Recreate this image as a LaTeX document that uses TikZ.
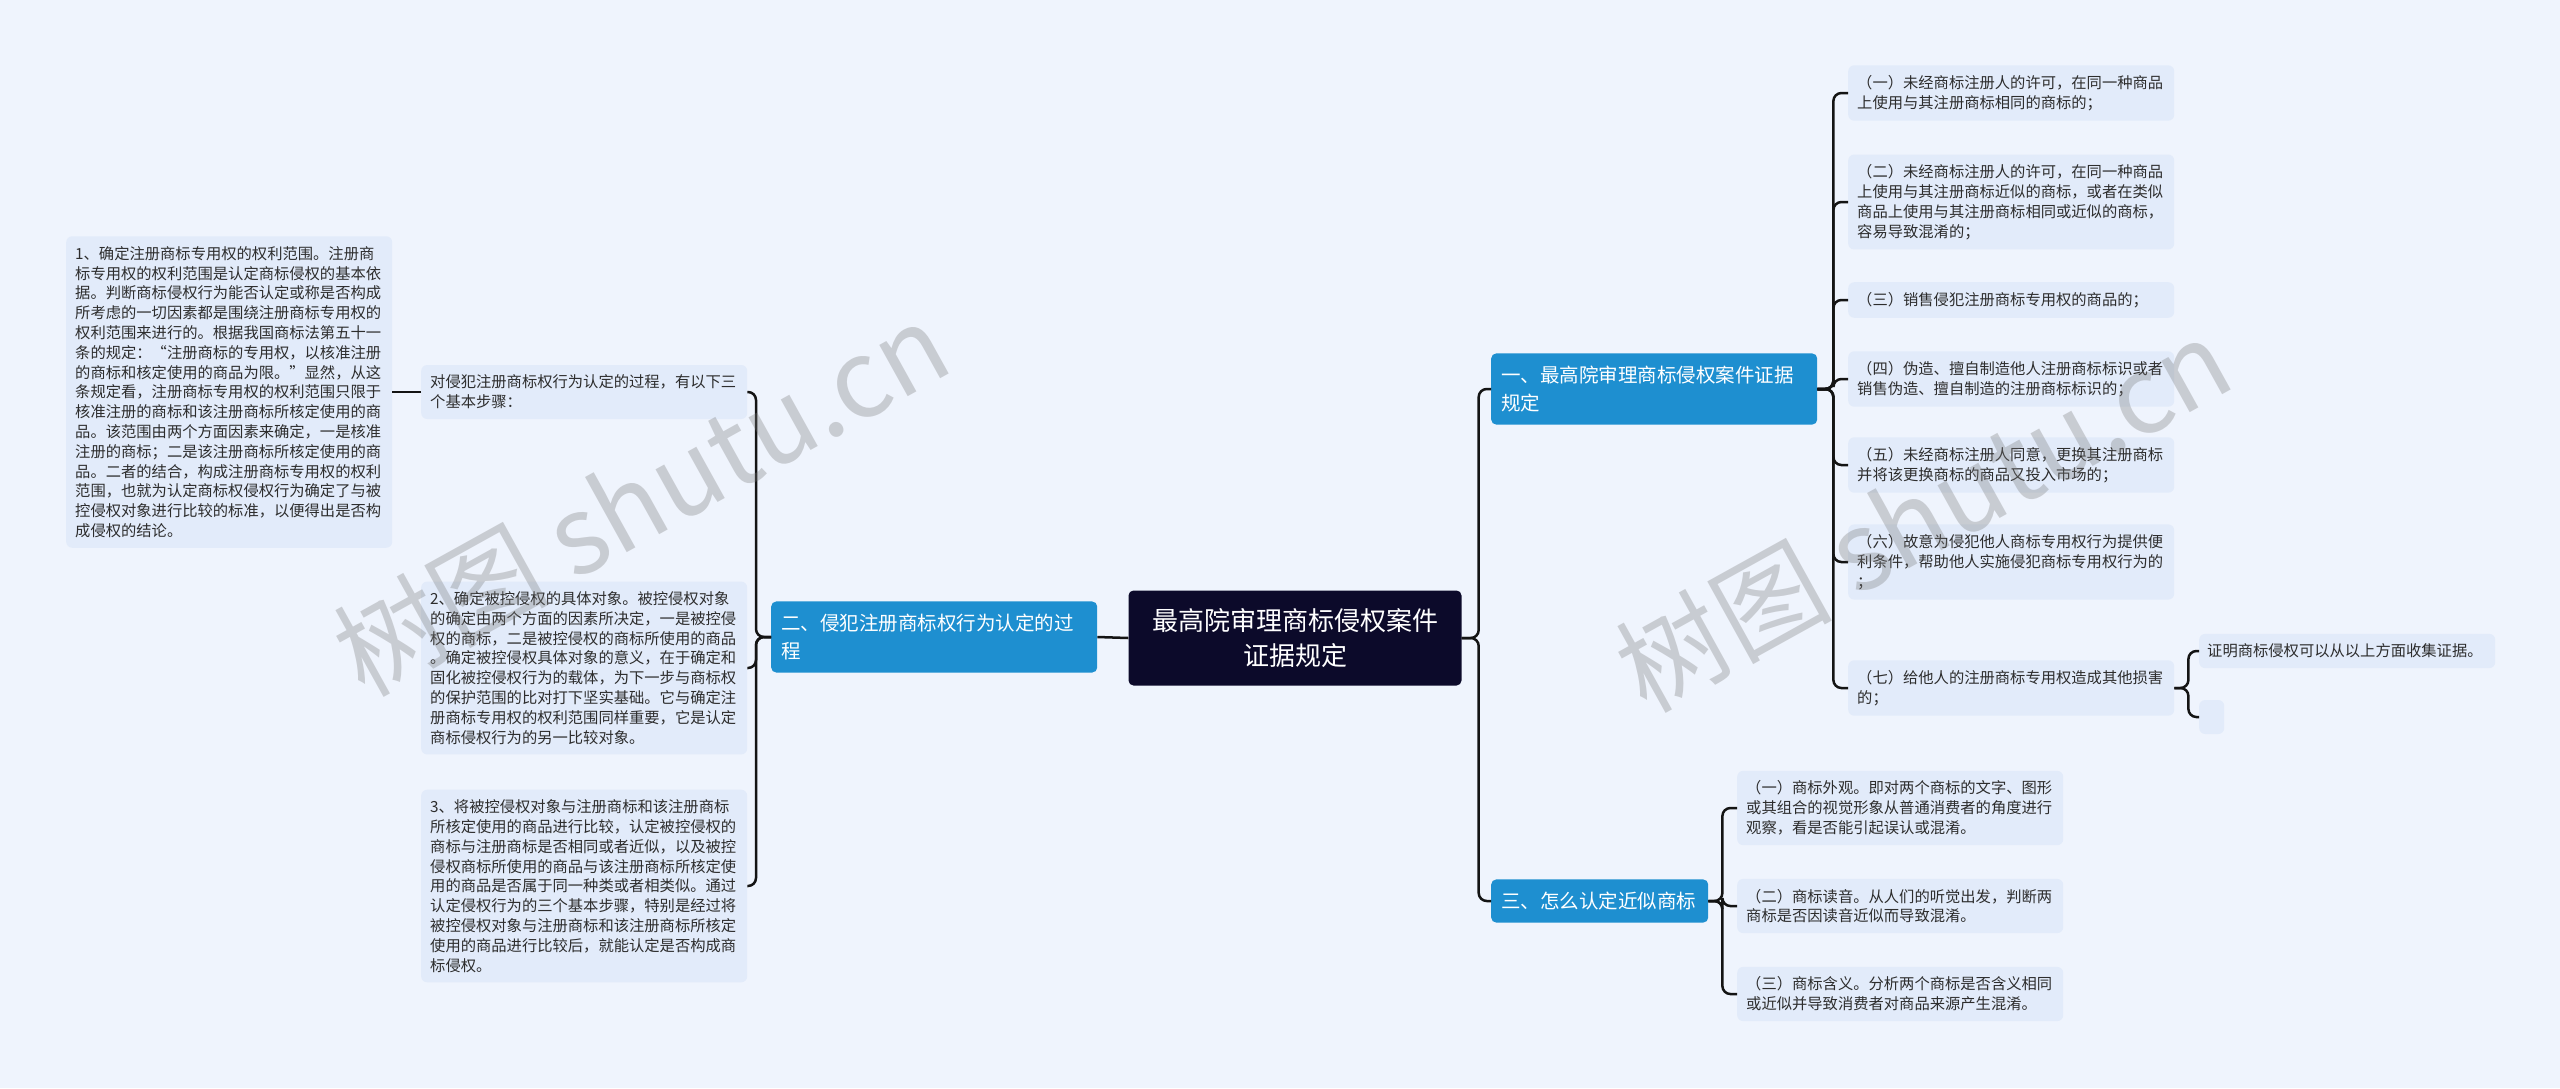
\documentclass[tikz,border=0pt]{standalone}
\usepackage{fontspec}
\setmainfont{Noto Sans CJK SC}
\XeTeXlinebreaklocale "zh"
\XeTeXlinebreakskip=0pt
\usepackage{xcolor}
\usepackage{tikz}
\usetikzlibrary{positioning, calc}
\definecolor{mybg}{RGB}{239,244,253}
\definecolor{myleaf}{RGB}{226,235,250}
\definecolor{mybranch}{RGB}{30,143,208}
\definecolor{myroot}{RGB}{12,10,42}
\definecolor{mydark}{RGB}{20,20,20}
\definecolor{mytext}{RGB}{45,45,45}
\definecolor{mymark}{RGB}{120,120,120}
\tikzset{
  rootnode/.style={rectangle, fill=myroot, text=white,
    text width=300pt, align=center, minimum width=333pt, minimum height=95pt,
    font=\fontsize{26}{35}\selectfont, rounded corners=5pt},
  branch/.style={rectangle, fill=mybranch, text=white,
    text width=306pt, align=left, inner xsep=10pt, inner ysep=12.5pt,
    font=\fontsize{19.5}{28}\selectfont, rounded corners=5pt},
  leaf/.style={rectangle, fill=myleaf, text=mytext,
    text width=308pt, align=left, inner xsep=9pt, inner ysep=10pt,
    font=\fontsize{15.3}{19.8}\selectfont, rounded corners=6pt},
  conn/.style={line width=2.5pt, color=mydark, rounded corners=8pt},
  wmark/.style={text=mymark, text opacity=0.32,
    font=\fontsize{108}{108}\selectfont, rotate=29}
}
\begin{document}
\begin{tikzpicture}[x=1pt, y=-1pt]
  \fill[mybg] (0,0) rectangle (2560,1088);
  \useasboundingbox (0,0) rectangle (2560,1088);

  \node[rootnode] (root) at (1295,638) {最高院审理商标侵权案件\\证据规定};

  \node[branch, anchor=west] (b2) at (771,637) {二、侵犯注册商标权行为认定的过\\程};
  \node[branch, anchor=west] (b1) at (1491,389) {一、最高院审理商标侵权案件证据\\规定};
  \node[branch, anchor=west, text width=197pt] (b3) at (1491,901) {三、怎么认定近似商标};

  \node[leaf, anchor=west] (mid) at (421,392) {对侵犯注册商标权行为认定的过程，有以下三\\个基本步骤：};
  \node[leaf, anchor=west] (l1) at (66,392) {1、确定注册商标专用权的权利范围。注册商\\标专用权的权利范围是认定商标侵权的基本依\\据。判断商标侵权行为能否认定或称是否构成\\所考虑的一切因素都是围绕注册商标专用权的\\权利范围来进行的。根据我国商标法第五十一\\条的规定：“注册商标的专用权，以核准注册\\的商标和核定使用的商品为限。”显然，从这\\条规定看，注册商标专用权的权利范围只限于\\核准注册的商标和该注册商标所核定使用的商\\品。该范围由两个方面因素来确定，一是核准\\注册的商标；二是该注册商标所核定使用的商\\品。二者的结合，构成注册商标专用权的权利\\范围，也就为认定商标权侵权行为确定了与被\\控侵权对象进行比较的标准，以便得出是否构\\成侵权的结论。};
  \node[leaf, anchor=west] (l2) at (421,668) {2、确定被控侵权的具体对象。被控侵权对象\\的确定由两个方面的因素所决定，一是被控侵\\权的商标，二是被控侵权的商标所使用的商品\\。确定被控侵权具体对象的意义，在于确定和\\固化被控侵权行为的载体，为下一步与商标权\\的保护范围的比对打下坚实基础。它与确定注\\册商标专用权的权利范围同样重要，它是认定\\商标侵权行为的另一比较对象。};
  \node[leaf, anchor=west] (l3) at (421,886) {3、将被控侵权对象与注册商标和该注册商标\\所核定使用的商品进行比较，认定被控侵权的\\商标与注册商标是否相同或者近似，以及被控\\侵权商标所使用的商品与该注册商标所核定使\\用的商品是否属于同一种类或者相类似。通过\\认定侵权行为的三个基本步骤，特别是经过将\\被控侵权对象与注册商标和该注册商标所核定\\使用的商品进行比较后，就能认定是否构成商\\标侵权。};

  \node[leaf, anchor=west] (r1) at (1848,93) {（一）未经商标注册人的许可，在同一种商品\\上使用与其注册商标相同的商标的；};
  \node[leaf, anchor=west] (r2) at (1848,202) {（二）未经商标注册人的许可，在同一种商品\\上使用与其注册商标近似的商标，或者在类似\\商品上使用与其注册商标相同或近似的商标，\\容易导致混淆的；};
  \node[leaf, anchor=west] (r3) at (1848,300) {（三）销售侵犯注册商标专用权的商品的；};
  \node[leaf, anchor=west] (r4) at (1848,379) {（四）伪造、擅自制造他人注册商标标识或者\\销售伪造、擅自制造的注册商标标识的；};
  \node[leaf, anchor=west] (r5) at (1848,465) {（五）未经商标注册人同意，更换其注册商标\\并将该更换商标的商品又投入市场的；};
  \node[leaf, anchor=west] (r6) at (1848,562) {（六）故意为侵犯他人商标专用权行为提供便\\利条件，帮助他人实施侵犯商标专用权行为的\\；};
  \node[leaf, anchor=west] (r7) at (1848,688) {（七）给他人的注册商标专用权造成其他损害\\的；};
  \node[leaf, anchor=west, text width=280pt, inner xsep=8pt] (p1) at (2199,651) {证明商标侵权可以从以上方面收集证据。};
  \node[leaf, anchor=west, text width=7pt, minimum height=34pt] (p2) at (2199,717) {};

  \node[leaf, anchor=west] (t1) at (1737,808) {（一）商标外观。即对两个商标的文字、图形\\或其组合的视觉形象从普通消费者的角度进行\\观察，看是否能引起误认或混淆。};
  \node[leaf, anchor=west] (t2) at (1737,906) {（二）商标读音。从人们的听觉出发，判断两\\商标是否因读音近似而导致混淆。};
  \node[leaf, anchor=west] (t3) at (1737,994) {（三）商标含义。分析两个商标是否含义相同\\或近似并导致消费者对商品来源产生混淆。};

  \draw[conn] (root.west) -- (b2.east);
  \draw[conn] (root.east) -- ++(17,0) |- (b1.west);
  \draw[conn] (root.east) -- ++(17,0) |- (b3.west);

  \draw[conn] (b2.west) -- ++(-15,0) |- (mid.east);
  \draw[conn] (b2.west) -- ++(-15,0) |- (l2.east);
  \draw[conn] (b2.west) -- ++(-15,0) |- (l3.east);
  \draw[conn] (mid.west) -- (l1.east);

  \draw[conn] (b1.east) -- ++(16,0) |- (r1.west);
  \draw[conn] (b1.east) -- ++(16,0) |- (r2.west);
  \draw[conn] (b1.east) -- ++(16,0) |- (r3.west);
  \draw[conn] (b1.east) -- ++(16,0) |- (r4.west);
  \draw[conn] (b1.east) -- ++(16,0) |- (r5.west);
  \draw[conn] (b1.east) -- ++(16,0) |- (r6.west);
  \draw[conn] (b1.east) -- ++(16,0) |- (r7.west);
  \draw[conn] (r7.east) -- ++(14,0) |- (p1.west);
  \draw[conn] (r7.east) -- ++(14,0) |- (p2.west);

  \draw[conn] (b3.east) -- ++(14,0) |- (t1.west);
  \draw[conn] (b3.east) -- ++(14,0) |- (t2.west);
  \draw[conn] (b3.east) -- ++(14,0) |- (t3.west);

  \node[wmark] (wm1) at (641,498) {树图 shutu.cn};
  \node[wmark] (wm2) at (1923,514) {树图 shutu.cn};
\end{tikzpicture}
\end{document}
